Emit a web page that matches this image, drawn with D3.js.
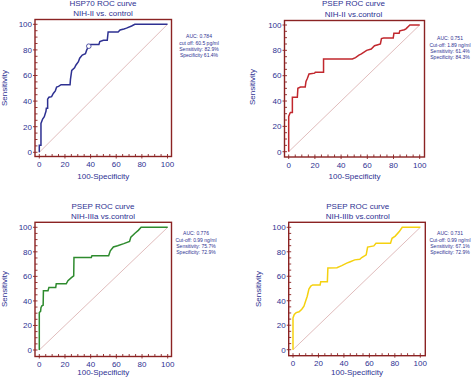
<!DOCTYPE html>
<html><head><meta charset="utf-8">
<script src="https://cdn.jsdelivr.net/npm/d3@7"></script>
<style>html,body{margin:0;padding:0;background:#fff;}svg{display:block;}</style>
</head><body>
<svg id="c" width="474" height="378"></svg>
<script>
// ---- data ----
const ticks = [0, 20, 40, 60, 80, 100];
const minorTicks = d3.range(0, 101, 5);
const xLabel = "100-Specificity";
const yLabel = "Sensitivity";

const titles1 = ["HSP70 ROC curve", "NIH-II vs. control"];
const titles2 = ["PSEP ROC curve", "NIH-II vs.control"];
const titles3 = ["PSEP ROC curve", "NIH-IIIa vs.control"];
const titles4 = ["PSEP ROC curve", "NIH-IIIb vs.control"];

const notes1 = ["AUC: 0.784", "cut off: 60.5 pg/ml", "Sensitivity: 82.9%", "Specificity 61.4%"];
const notes2 = ["AUC: 0.751", "Cut-off: 1.89 ng/ml", "Sensitivity: 61.4%", "Specificity: 84.3%"];
const notes3 = ["AUC: 0.776", "Cut-off: 0.99 ng/ml", "Sensitivity: 75.7%", "Specificity: 72.9%"];
const notes4 = ["AUC: 0.731", "Cut-off: 0.99 ng/ml", "Sensitivity: 67.1%", "Specificity: 72.9%"];

// [100-specificity, sensitivity]
const roc1 = [[0,0],[0,5.5],[1.3,5.5],[1.3,22.5],[2.6,26],[3.9,27.8],[5.2,32],[5.5,34.5],[6.5,34.5],[6.5,41.5],[7.5,43],[9.6,43.5],[10.9,46],[12.5,48],[13.5,51],[15,51.5],[17,52.8],[24,52.8],[24.3,57],[25.3,64],[27.5,66],[28.5,68],[30.5,70.8],[31.5,73.5],[33.5,76],[36,77],[37,80],[38.6,82.9],[40,84.2],[46.5,84.2],[47.2,86.5],[50,87.5],[53,87.5],[53.7,94],[61.5,94],[63,95.6],[66,96.3],[68,97],[72,98.7],[74.5,100],[100,100]];
const roc2 = [[0,0],[0,27.8],[0.8,30],[1.3,31],[2.8,31],[2.8,43],[6.6,43],[7,50],[9,51],[12.6,51],[13.2,55.5],[14.3,58],[15.5,61.3],[19.8,62],[20.3,62.8],[26.6,62.8],[26.6,73.2],[48.6,73.2],[51,74.3],[53.6,76.2],[55.5,77.2],[59.5,80],[63,81],[65.5,83.6],[67.5,84.2],[70,85],[70.8,89.3],[72.5,89.7],[79.8,89.7],[80.3,93.4],[84.3,93.4],[84.8,95.4],[88.3,96.3],[89.5,97],[92.5,100],[100,100]];
const roc3 = [[0,0],[0,30.5],[1,31.5],[1.3,34.5],[2,36],[3,36.5],[3.2,48.3],[6.8,48.3],[7.5,51],[12.8,51],[13.2,54],[21,54],[22.3,56.5],[25,59],[26.8,60.5],[27,75.4],[40.5,75.4],[41,76.9],[54,76.9],[55.3,80.8],[57.7,84],[61,85],[65.8,86.7],[70.3,88.5],[71.3,92],[74.5,95.2],[77.1,97.5],[79.3,100],[100,100]];
const roc4 = [[0,0],[0,26],[1,28.8],[2.5,30.3],[4.8,31],[6.9,33],[8.6,35.5],[10,40],[11.2,43.7],[12.5,49.5],[14,52],[15.5,52.9],[21.3,52.9],[21.8,55.6],[27,55.6],[27.4,66.7],[34.5,67],[38.3,68.7],[42.2,70.7],[45,71.9],[48.5,73.4],[52.5,73.9],[54,75.3],[56.5,76.8],[57.5,77.5],[58.6,83.8],[63.5,84.8],[65.2,87],[76.6,87],[77.8,91],[80.3,92.8],[83.5,96.5],[85.8,100],[100,100]];
const cutoff1 = [[38.6, 82.9]];

// ---- layout & style ----
const TEXT = "#2e3192";
const FRAME = "#8b2323";
const DIAG = "#dcb4b4";
const FONT = "Liberation Sans, Arial, sans-serif";

const panels = [
  {data: roc1, color: "#2e3192", titles: titles1, notes: notes1, marker: cutoff1,
   frame: [35, 19.5, 171.5, 156.5], xr: [39.3, 167.5], yr: [152.3, 24.3],
   tx: 103, ty: [3.5, 13.5], ylx: 4, yly: 88, xly: 176.5, nx: 199, ny: 36.5},
  {data: roc2, color: "#c1272d", titles: titles2, notes: notes2, marker: [],
   frame: [284.5, 20.5, 424.5, 157], xr: [288.7, 419.7], yr: [151.7, 25],
   tx: 353.5, ty: [3.5, 13.8], ylx: 252, yly: 87, xly: 176, nx: 450, ny: 38.5},
  {data: roc3, color: "#2e8b2e", titles: titles3, notes: notes3, marker: [],
   frame: [35, 222.3, 171.5, 356.5], xr: [39.3, 167.7], yr: [350, 227.3],
   tx: 103, ty: [206, 216], ylx: 4, yly: 289, xly: 372.5, nx: 196, ny: 233.5},
  {data: roc4, color: "#f5d10f", titles: titles4, notes: notes4, marker: [],
   frame: [288.7, 222.3, 425.3, 355.7], xr: [293, 420.3], yr: [349.7, 227.3],
   tx: 357.7, ty: [206, 216], ylx: 257.7, yly: 289, xly: 372.5, nx: 450, ny: 233.5}
];

const svg = d3.select("#c");

panels.forEach(p => {
  const g = svg.append("g");
  const x = d3.scaleLinear().domain([0, 100]).range(p.xr);
  const y = d3.scaleLinear().domain([0, 100]).range(p.yr);
  const [fx0, fy0, fx1, fy1] = p.frame;

  // diagonal reference
  g.append("path")
    .attr("d", d3.line().x(d => x(d[0])).y(d => y(d[1]))([[0,0],[100,100]]))
    .attr("stroke", DIAG).attr("stroke-width", 0.9).attr("fill", "none");

  // ROC curve
  g.append("path")
    .attr("d", d3.line().x(d => x(d[0])).y(d => y(d[1]))(p.data))
    .attr("stroke", p.color).attr("stroke-width", 1.5).attr("fill", "none")
    .attr("stroke-linejoin", "miter");

  // cutoff marker
  g.selectAll("circle.m").data(p.marker).join("circle")
    .attr("cx", d => x(d[0])).attr("cy", d => y(d[1])).attr("r", 2.3)
    .attr("fill", "#fff").attr("stroke", p.color).attr("stroke-width", 0.8);

  // frame
  g.append("rect").attr("x", fx0).attr("y", fy0)
    .attr("width", fx1 - fx0).attr("height", fy1 - fy0)
    .attr("fill", "none").attr("stroke", FRAME).attr("stroke-width", 1.4);

  // minor ticks (inside)
  g.selectAll("line.bx").data(minorTicks).join("line")
    .attr("x1", d => x(d)).attr("x2", d => x(d))
    .attr("y1", fy1).attr("y2", fy1 - 2.5)
    .attr("stroke", FRAME).attr("stroke-width", 0.9);
  g.selectAll("line.ly").data(minorTicks).join("line")
    .attr("y1", d => y(d)).attr("y2", d => y(d))
    .attr("x1", fx0).attr("x2", fx0 + 2.5)
    .attr("stroke", FRAME).attr("stroke-width", 0.9);

  // major tick marks (outside)
  g.selectAll("line.mx").data(ticks).join("line")
    .attr("x1", d => x(d)).attr("x2", d => x(d))
    .attr("y1", fy1).attr("y2", fy1 + 2)
    .attr("stroke", FRAME).attr("stroke-width", 0.9);
  g.selectAll("line.my").data(ticks).join("line")
    .attr("y1", d => y(d)).attr("y2", d => y(d))
    .attr("x1", fx0 - 2).attr("x2", fx0)
    .attr("stroke", FRAME).attr("stroke-width", 0.9);

  // tick labels
  g.selectAll("text.xt").data(ticks).join("text")
    .attr("x", d => x(d)).attr("y", fy1 + 10.5)
    .attr("text-anchor", "middle")
    .attr("font-family", FONT).attr("font-size", 8).attr("fill", TEXT)
    .text(d => d);
  g.selectAll("text.yt").data(ticks).join("text")
    .attr("x", fx0 - 3).attr("y", d => y(d)).attr("dy", "0.35em")
    .attr("text-anchor", "end")
    .attr("font-family", FONT).attr("font-size", 8).attr("fill", TEXT)
    .text(d => d);

  // titles
  g.selectAll("text.t").data(p.titles).join("text")
    .attr("x", p.tx).attr("y", (d, i) => p.ty[i]).attr("dy", "0.35em")
    .attr("text-anchor", "middle")
    .attr("font-family", FONT).attr("font-size", 8).attr("fill", TEXT)
    .text(d => d);

  // axis labels
  g.append("text").attr("x", (fx0 + fx1) / 2).attr("y", p.xly).attr("dy", "0.35em")
    .attr("text-anchor", "middle")
    .attr("font-family", FONT).attr("font-size", 8).attr("fill", TEXT)
    .text(xLabel);
  g.append("text")
    .attr("transform", `translate(${p.ylx},${p.yly}) rotate(-90)`)
    .attr("dy", "0.35em").attr("text-anchor", "middle")
    .attr("font-family", FONT).attr("font-size", 8).attr("fill", TEXT)
    .text(yLabel);

  // annotation
  g.selectAll("text.n").data(p.notes).join("text")
    .attr("x", p.nx).attr("y", (d, i) => p.ny + i * 6.4).attr("dy", "0.35em")
    .attr("text-anchor", "middle")
    .attr("font-family", FONT).attr("font-size", 5).attr("fill", TEXT)
    .text(d => d);
});
</script>
</body></html>
